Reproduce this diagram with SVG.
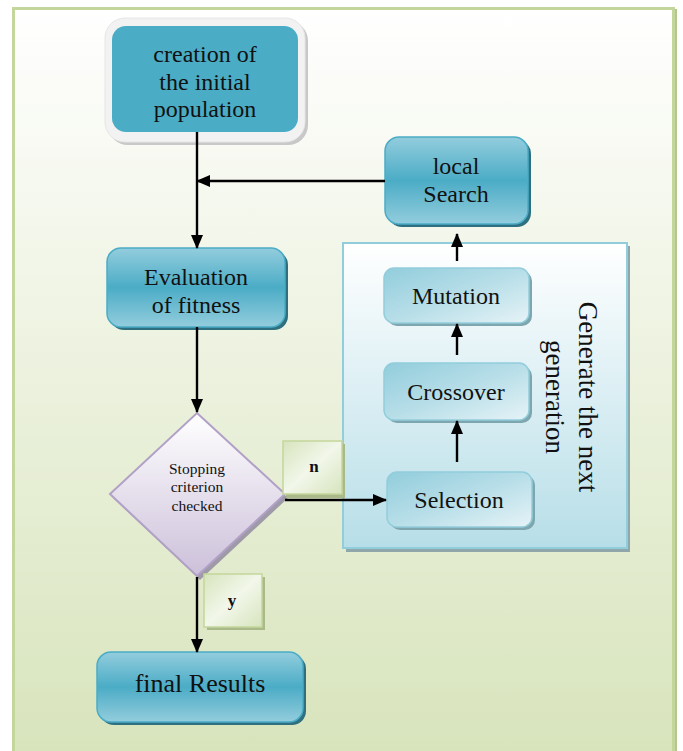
<svg xmlns="http://www.w3.org/2000/svg" width="683" height="751" viewBox="0 0 683 751">
<defs>
<linearGradient id="bg" x1="0" y1="0" x2="0" y2="1"><stop offset="0" stop-color="#ffffff"/><stop offset="1" stop-color="#d8e4bc"/></linearGradient>
<linearGradient id="teal" x1="0" y1="0" x2="0" y2="1"><stop offset="0" stop-color="#93cddd"/><stop offset="0.5" stop-color="#4bacc6"/><stop offset="1" stop-color="#93cddd"/></linearGradient>
<linearGradient id="ltteal" x1="0" y1="0" x2="1" y2="1"><stop offset="0" stop-color="#92cddc"/><stop offset="0.5" stop-color="#b7dee8"/><stop offset="1" stop-color="#e6f3f7"/></linearGradient>
<linearGradient id="panel" x1="0" y1="0" x2="0" y2="1"><stop offset="0" stop-color="#ffffff"/><stop offset="1" stop-color="#b7dee8"/></linearGradient>
<linearGradient id="dia" x1="0" y1="0" x2="0" y2="1"><stop offset="0" stop-color="#ffffff"/><stop offset="1" stop-color="#ccc0da"/></linearGradient>
<linearGradient id="lbl" x1="0" y1="0" x2="1" y2="1"><stop offset="0" stop-color="#d7e4bd"/><stop offset="0.5" stop-color="#f2f7ea"/><stop offset="1" stop-color="#d7e4bd"/></linearGradient>
<marker id="ah" markerWidth="14" markerHeight="12" refX="13" refY="6" orient="auto" markerUnits="userSpaceOnUse"><path d="M0,0 L14,6 L0,12 Z" fill="#000"/></marker>
</defs>
<style>
text{font-family:"Liberation Serif","Times New Roman",serif;fill:#111;text-anchor:middle}
.t24{font-size:24px}
.t27{font-size:27px}
.t15{font-size:15.5px}
.b{font-weight:bold;font-size:17px}
.conn{stroke:#000;stroke-width:2.4;fill:none;marker-end:url(#ah)}
.tealbox{fill:url(#teal);stroke:#4bacc6;stroke-width:1.5}
.tealsh{fill:#2e6f80}
.inbox{fill:url(#ltteal);stroke:#92cddc;stroke-width:1.5}
.insh{fill:#7ea6ae}
.lblbox{fill:url(#lbl);stroke:#c3d69b;stroke-width:1.5}
.lblsh{fill:#a9b98a}
</style>
<rect x="14" y="9" width="663" height="746" fill="#b5c68f"/>
<rect x="13.5" y="8.5" width="660" height="745" fill="url(#bg)" stroke="#c3d69b" stroke-width="3"/>

<g id="panel">
<rect x="346" y="246" width="284" height="306" fill="#8fa6ab"/>
<rect x="343" y="243" width="284" height="305" fill="url(#panel)" stroke="#92cddc" stroke-width="2"/>
<text class="t27" transform="translate(579,397) rotate(90)">Generate the next</text>
<text class="t27" transform="translate(546,397) rotate(90)">generation</text>
</g>

<g id="creation">
<rect x="108" y="21" width="200" height="124" rx="20" fill="#c8c8c8"/>
<rect x="105" y="18" width="200" height="124" rx="20" fill="#f2f2f2" stroke="#e6e6e6"/>
<rect x="112" y="26" width="186" height="106" rx="14" fill="#4bacc6"/>
<text class="t24" x="205" y="62">creation of</text>
<text class="t24" x="205" y="90">the initial</text>
<text class="t24" x="205" y="117">population</text>
</g>

<g id="local">
<rect x="388" y="140" width="143" height="87" rx="14" class="tealsh"/>
<rect x="385" y="137" width="143" height="87" rx="14" class="tealbox"/>
<text class="t24" x="456" y="174">local</text>
<text class="t24" x="456" y="202">Search</text>
</g>

<g id="evaluation">
<rect x="110" y="251" width="178" height="79" rx="14" class="tealsh"/>
<rect x="107" y="248" width="178" height="79" rx="14" class="tealbox"/>
<text class="t24" x="196" y="285">Evaluation</text>
<text class="t24" x="196" y="313">of fitness</text>
</g>

<g id="diamond">
<path d="M200,416 L288,498 L200,580 L113,498 Z" fill="#9e9aa8"/>
<path d="M197,413 L285,494 L197,576 L110,494 Z" fill="url(#dia)" stroke="#b2a1c7" stroke-width="2"/>
<text class="t15" x="197" y="474">Stopping</text>
<text class="t15" x="197" y="492">criterion</text>
<text class="t15" x="197" y="511">checked</text>
</g>

<g id="n">
<rect x="286" y="444" width="59" height="54" class="lblsh"/>
<rect x="283" y="441" width="59" height="53" class="lblbox"/>
<text class="b" x="314" y="472">n</text>
</g>

<g id="y">
<rect x="207" y="577" width="58" height="53" class="lblsh"/>
<rect x="204" y="574" width="58" height="53" class="lblbox"/>
<text class="b" x="232" y="606">y</text>
</g>

<g id="mutation">
<rect x="387" y="271" width="145" height="55" rx="10" class="insh"/>
<rect x="384" y="268" width="145" height="55" rx="10" class="inbox"/>
<text class="t24" x="456" y="304">Mutation</text>
</g>

<g id="crossover">
<rect x="387" y="366" width="145" height="57" rx="10" class="insh"/>
<rect x="384" y="363" width="145" height="57" rx="10" class="inbox"/>
<text class="t24" x="456" y="400">Crossover</text>
</g>

<g id="selection">
<rect x="390" y="475" width="145" height="55" rx="10" class="insh"/>
<rect x="387" y="472" width="145" height="55" rx="10" class="inbox"/>
<text class="t24" x="459" y="508">Selection</text>
</g>

<g id="final">
<rect x="100" y="655" width="206" height="70" rx="14" class="tealsh"/>
<rect x="97" y="652" width="206" height="70" rx="14" class="tealbox"/>
<text x="200" y="692" style="font-size:26px">final Results</text>
</g>

<g id="connectors">
<line class="conn" x1="197" y1="132" x2="197" y2="248"/>
<line class="conn" x1="385" y1="181" x2="197" y2="181"/>
<line class="conn" x1="197" y1="327" x2="197" y2="412"/>
<line class="conn" x1="285" y1="500" x2="386" y2="500"/>
<line class="conn" x1="197" y1="577" x2="197" y2="652"/>
<line class="conn" x1="457" y1="462" x2="457" y2="421"/>
<line class="conn" x1="457" y1="355" x2="457" y2="324"/>
<line class="conn" x1="457" y1="261" x2="457" y2="234"/>
</g>
</svg>
